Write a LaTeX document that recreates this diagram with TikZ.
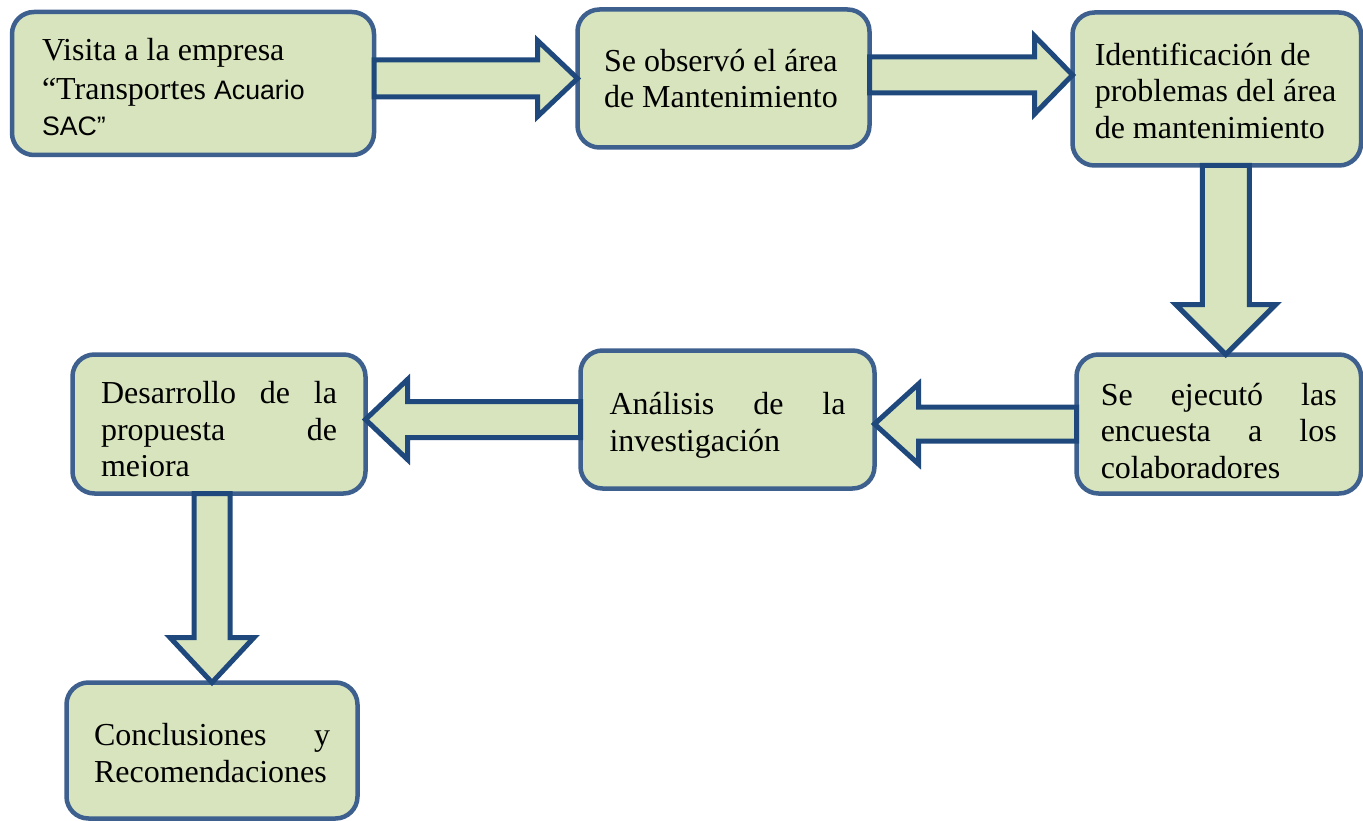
\documentclass[tikz,border=0pt]{standalone}
\usepackage{fontspec}
\usepackage{trimclip}
\setmainfont{Liberation Serif}
\newfontfamily\sansacu{Liberation Sans}
\usetikzlibrary{calc}

\definecolor{boxfill}{RGB}{215,228,189}
\definecolor{boxline}{RGB}{61,96,142}
\definecolor{arrline}{RGB}{31,73,125}

% plain word spacing of the font, and a strut that sets the height of a first line
\newcommand\plainspaces{\spaceskip=0pt\xspaceskip=0pt\relax}
\newcommand\toprule[1]{\rule{0pt}{#1pt}}

% block arrows between boxes: #1 start, #2 tip, #3 shaft half-width,
% #4 head half-width, #5 head length
\newcommand\harrow[5]{%
  \draw[blockarr] let \p1=(#1), \p2=(#2), \n1={sign(\x2-\x1)*#5} in
    (\x1,\y1+#3) -- (\x2-\n1,\y1+#3) -- (\x2-\n1,\y1+#4) -- (\x2,\y1)
    -- (\x2-\n1,\y1-#4) -- (\x2-\n1,\y1-#3) -- (\x1,\y1-#3) -- cycle;}
\newcommand\varrow[5]{%
  \draw[blockarr] let \p1=(#1), \p2=(#2), \n1={sign(\y2-\y1)*#5} in
    (\x1+#3,\y1) -- (\x1+#3,\y2-\n1) -- (\x1+#4,\y2-\n1) -- (\x1,\y2)
    -- (\x1-#4,\y2-\n1) -- (\x1-#3,\y2-\n1) -- (\x1-#3,\y1) -- cycle;}

\begin{document}
\begin{tikzpicture}[x=1pt,y=-1pt,
  tolerance/.code={\tolerance=#1\relax},
  flowbox/.style={draw=boxline, fill=boxfill, line width=4.5pt,
    rounded corners=22pt, inner sep=0pt, outer sep=0pt,
    font=\fontsize{32}{36.8}\selectfont, tolerance=10000},
  blockarr/.style={draw=arrline, fill=boxfill, line width=5pt, line join=miter}]
\useasboundingbox (0,0) rectangle (1363,821);

% process boxes
\node[flowbox, minimum width=362pt, minimum height=143pt, text width=302pt, align=left]
  (b1) at (193,83.5)
  {\plainspaces\toprule{30}Visita a la empresa\\[1.5pt] “Transportes {\sansacu\fontsize{26.7}{30}\selectfont Acuario}\\
   {\sansacu\fontsize{26.7}{30}\selectfont SAC”}};
\node[flowbox, minimum width=292pt, minimum height=138pt, text width=239pt, align=left]
  (b2) at (723.5,78.5)
  {\plainspaces Se observó el área\\ de Mantenimiento};
\node[flowbox, minimum width=288.5pt, minimum height=153pt, text width=244pt, align=left]
  (b3) at (1216.75,89)
  {\plainspaces\toprule{26}Identificación de\\ problemas del área\\ de mantenimiento};
\node[flowbox, minimum width=284.5pt, minimum height=139pt, text width=236pt, align=justify]
  (b4) at (1218.75,424)
  {\toprule{36}Se ejecutó las\linebreak encuesta a los\linebreak colaboradores};
\node[flowbox, minimum width=294pt, minimum height=138pt, text width=236pt, align=justify]
  (b5) at (727.5,419.5)
  {\toprule{34}Análisis de la\linebreak investigación};
\node[flowbox, minimum width=293pt, minimum height=139pt, text width=236pt, align=justify]
  (b6) at (219,424)
  {\toprule{32}Desarrollo de la\linebreak propuesta de\linebreak \clipbox{0pt {\depth} 0pt 0pt}{mejora}};
\node[flowbox, minimum width=291pt, minimum height=136pt, text width=236pt, align=justify]
  (b7) at (212,750.5)
  {\toprule{27}Conclusiones y\linebreak Recomendaciones};

% anchor points for the arrows
\coordinate (a2s) at ([yshift=3.5pt]b2.east);
\coordinate (a3s) at ([xshift=9pt]b3.south);

% block arrows
\harrow{b1.east |- b2.west}{b2.west}{18.5}{38}{40}
\harrow{a2s}{a2s -| b3.west}{18}{39}{38}
\varrow{a3s}{a3s |- b4.north}{23.5}{50}{50}
\harrow{b4.west}{b4.west -| b5.east}{17}{40}{44}
\harrow{b5.west}{b5.west -| b6.east}{18}{40}{42}
\varrow{b6.south -| b7.north}{b7.north}{18}{42}{45}
\end{tikzpicture}
\end{document}
